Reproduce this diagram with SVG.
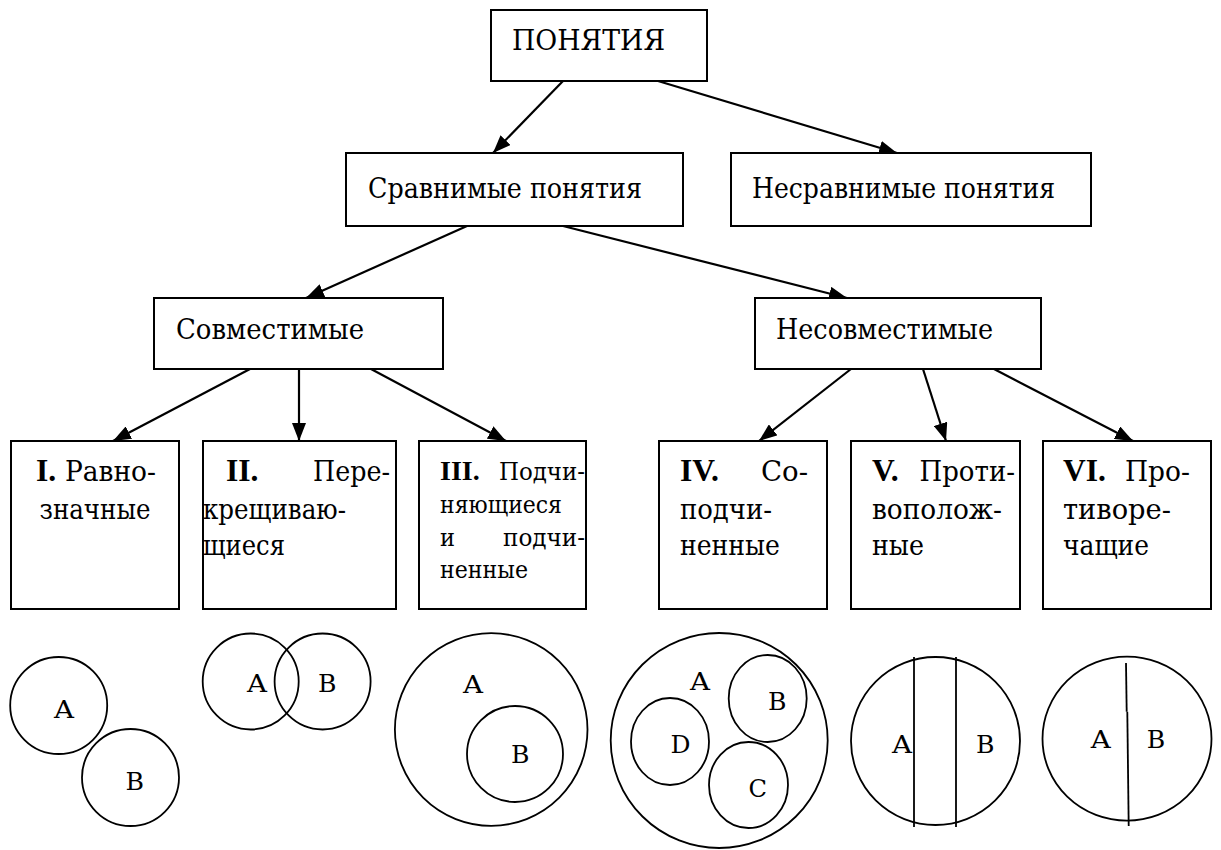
<svg xmlns="http://www.w3.org/2000/svg" width="1221" height="850" viewBox="0 0 1221 850">
<style>
  text { fill: #000; }
  .s { font-family: 'DejaVu Serif', serif; }
  .h { font-size: 28.5px; }
  .m { font-size: 28px; }
  .sm { font-size: 25px; }
  .lbl { font-family: 'DejaVu Serif', serif; font-size: 25px; }
  .bd { font-family: 'Liberation Serif', 'DejaVu Serif', serif; font-weight: bold; font-size: 31.5px; }
  .bd3 { font-family: 'Liberation Serif', 'DejaVu Serif', serif; font-weight: bold; font-size: 28px; }
  .box { fill: #fff; stroke: #000; stroke-width: 2; }
  .conn { stroke: #000; stroke-width: 2.2; fill: none; marker-end: url(#arr); }
  .ring { fill: none; stroke: #000; stroke-width: 1.8; }
  .cut { stroke: #000; stroke-width: 1.8; fill: none; }
</style>
<defs>
  <marker id="arr" viewBox="0 0 18 14" refX="18" refY="7" markerWidth="18" markerHeight="14" markerUnits="userSpaceOnUse" orient="auto">
    <path d="M0,0 L18,7 L0,14 z" fill="#000"/>
  </marker>
</defs>
<rect width="1221" height="850" fill="#fff"/>

<g id="connectors">
  <line class="conn" x1="563" y1="81" x2="493" y2="153"/>
  <line class="conn" x1="658" y1="81" x2="897" y2="153"/>
  <line class="conn" x1="467" y1="226" x2="306" y2="298"/>
  <line class="conn" x1="563" y1="226" x2="847" y2="298"/>
  <line class="conn" x1="250" y1="369" x2="113" y2="441"/>
  <line class="conn" x1="299" y1="369" x2="299" y2="441"/>
  <line class="conn" x1="371" y1="369" x2="506" y2="441"/>
  <line class="conn" x1="851" y1="369" x2="759" y2="441"/>
  <line class="conn" x1="923" y1="369" x2="946" y2="441"/>
  <line class="conn" x1="994" y1="369" x2="1133" y2="441"/>
</g>

<g id="ponyatiya">
  <rect class="box" x="491" y="10" width="216" height="71"/>
  <text class="s h" x="512" y="50" textLength="153" lengthAdjust="spacingAndGlyphs">ПОНЯТИЯ</text>
</g>
<g id="sravnimye">
  <rect class="box" x="346" y="153" width="337" height="73"/>
  <text class="s h" x="368" y="198" textLength="274" lengthAdjust="spacingAndGlyphs">Сравнимые понятия</text>
</g>
<g id="nesravnimye">
  <rect class="box" x="731" y="153" width="360" height="73"/>
  <text class="s h" x="752" y="198" textLength="303" lengthAdjust="spacingAndGlyphs">Несравнимые понятия</text>
</g>
<g id="sovmestimye">
  <rect class="box" x="154" y="298" width="289" height="71"/>
  <text class="s h" x="176" y="339" textLength="188" lengthAdjust="spacingAndGlyphs">Совместимые</text>
</g>
<g id="nesovmestimye">
  <rect class="box" x="755" y="298" width="286" height="71"/>
  <text class="s h" x="776" y="339" textLength="217" lengthAdjust="spacingAndGlyphs">Несовместимые</text>
</g>

<g id="type1">
  <rect class="box" x="11" y="441" width="168" height="168"/>
  <text class="bd" x="36" y="481">I.</text>
  <text class="s m" x="65" y="481" textLength="91" lengthAdjust="spacingAndGlyphs">Равно-</text>
  <text class="s m" x="39.5" y="519" textLength="111" lengthAdjust="spacingAndGlyphs">значные</text>
</g>
<g id="type2">
  <rect class="box" x="203" y="441" width="193" height="168"/>
  <text class="bd" x="226" y="481">II.</text>
  <text class="s m" x="313" y="481" textLength="77" lengthAdjust="spacingAndGlyphs">Пере-</text>
  <text class="s m" x="203" y="519" textLength="143" lengthAdjust="spacingAndGlyphs">крещиваю-</text>
  <text class="s m" x="203" y="555" textLength="82" lengthAdjust="spacingAndGlyphs">щиеся</text>
</g>
<g id="type3">
  <rect class="box" x="419" y="441" width="167" height="168"/>
  <text class="bd3" x="440" y="480">III.</text>
  <text class="s sm" x="499" y="480" textLength="86" lengthAdjust="spacingAndGlyphs">Подчи-</text>
  <text class="s sm" x="440" y="513" textLength="122" lengthAdjust="spacingAndGlyphs">няющиеся</text>
  <text class="s sm" x="440" y="546" textLength="15" lengthAdjust="spacingAndGlyphs">и</text>
  <text class="s sm" x="503" y="546" textLength="82" lengthAdjust="spacingAndGlyphs">подчи-</text>
  <text class="s sm" x="440" y="578" textLength="88" lengthAdjust="spacingAndGlyphs">ненные</text>
</g>
<g id="type4">
  <rect class="box" x="659" y="441" width="168" height="168"/>
  <text class="bd" x="680" y="481">IV.</text>
  <text class="s m" x="761" y="481" textLength="47" lengthAdjust="spacingAndGlyphs">Со-</text>
  <text class="s m" x="680" y="519" textLength="92" lengthAdjust="spacingAndGlyphs">подчи-</text>
  <text class="s m" x="680" y="555" textLength="100" lengthAdjust="spacingAndGlyphs">ненные</text>
</g>
<g id="type5">
  <rect class="box" x="851" y="441" width="169" height="168"/>
  <text class="bd" x="872" y="481">V.</text>
  <text class="s m" x="919.5" y="481" textLength="95.5" lengthAdjust="spacingAndGlyphs">Проти-</text>
  <text class="s m" x="872" y="519" textLength="130" lengthAdjust="spacingAndGlyphs">вополож-</text>
  <text class="s m" x="872" y="555" textLength="52" lengthAdjust="spacingAndGlyphs">ные</text>
</g>
<g id="type6">
  <rect class="box" x="1043" y="441" width="168" height="168"/>
  <text class="bd" x="1063" y="481">VI.</text>
  <text class="s m" x="1125" y="481" textLength="65" lengthAdjust="spacingAndGlyphs">Про-</text>
  <text class="s m" x="1063" y="519" textLength="108" lengthAdjust="spacingAndGlyphs">тиворе-</text>
  <text class="s m" x="1063" y="555" textLength="86" lengthAdjust="spacingAndGlyphs">чащие</text>
</g>

<g id="euler1">
  <circle class="ring" cx="58.7" cy="705.5" r="48.5"/>
  <circle class="ring" cx="130.5" cy="777.5" r="48.5"/>
  <text class="lbl" x="54" y="718" textLength="20" lengthAdjust="spacingAndGlyphs">A</text>
  <text class="lbl" x="125.5" y="790" textLength="18.5" lengthAdjust="spacingAndGlyphs">B</text>
</g>
<g id="euler2">
  <circle class="ring" cx="250.7" cy="681.5" r="48"/>
  <circle class="ring" cx="322.6" cy="681.5" r="48"/>
  <text class="lbl" x="247" y="692" textLength="20" lengthAdjust="spacingAndGlyphs">A</text>
  <text class="lbl" x="318" y="692" textLength="18.5" lengthAdjust="spacingAndGlyphs">B</text>
</g>
<g id="euler3">
  <circle class="ring" cx="491.2" cy="729.5" r="96.3"/>
  <circle class="ring" cx="515" cy="754" r="48"/>
  <text class="lbl" x="463" y="693" textLength="20" lengthAdjust="spacingAndGlyphs">A</text>
  <text class="lbl" x="511" y="763" textLength="18.5" lengthAdjust="spacingAndGlyphs">B</text>
</g>
<g id="euler4">
  <ellipse class="ring" cx="719.2" cy="740.5" rx="108.5" ry="107.5"/>
  <ellipse class="ring" cx="767.7" cy="698.5" rx="39" ry="43.5"/>
  <ellipse class="ring" cx="670" cy="741.5" rx="39" ry="43.5"/>
  <ellipse class="ring" cx="748.5" cy="785" rx="39.5" ry="43"/>
  <text class="lbl" x="690" y="690" textLength="20" lengthAdjust="spacingAndGlyphs">A</text>
  <text class="lbl" x="768" y="710" textLength="18.5" lengthAdjust="spacingAndGlyphs">B</text>
  <text class="lbl" x="670.5" y="753" textLength="20" lengthAdjust="spacingAndGlyphs">D</text>
  <text class="lbl" x="748.5" y="797" textLength="18.5" lengthAdjust="spacingAndGlyphs">C</text>
</g>
<g id="euler5">
  <ellipse class="ring" cx="935.5" cy="741" rx="84.5" ry="84"/>
  <line class="cut" x1="914" y1="657" x2="914" y2="827"/>
  <line class="cut" x1="956" y1="657" x2="956" y2="827"/>
  <text class="lbl" x="892" y="753" textLength="20" lengthAdjust="spacingAndGlyphs">A</text>
  <text class="lbl" x="976" y="753" textLength="18.5" lengthAdjust="spacingAndGlyphs">B</text>
</g>
<g id="euler6">
  <ellipse class="ring" cx="1127" cy="738.7" rx="84.5" ry="82"/>
  <line class="cut" x1="1126" y1="663" x2="1126.7" y2="711.7"/>
  <line class="cut" x1="1127.3" y1="711.7" x2="1128.7" y2="826"/>
  <text class="lbl" x="1090.7" y="748" textLength="20" lengthAdjust="spacingAndGlyphs">A</text>
  <text class="lbl" x="1146.7" y="748" textLength="18.5" lengthAdjust="spacingAndGlyphs">B</text>
</g>
</svg>
